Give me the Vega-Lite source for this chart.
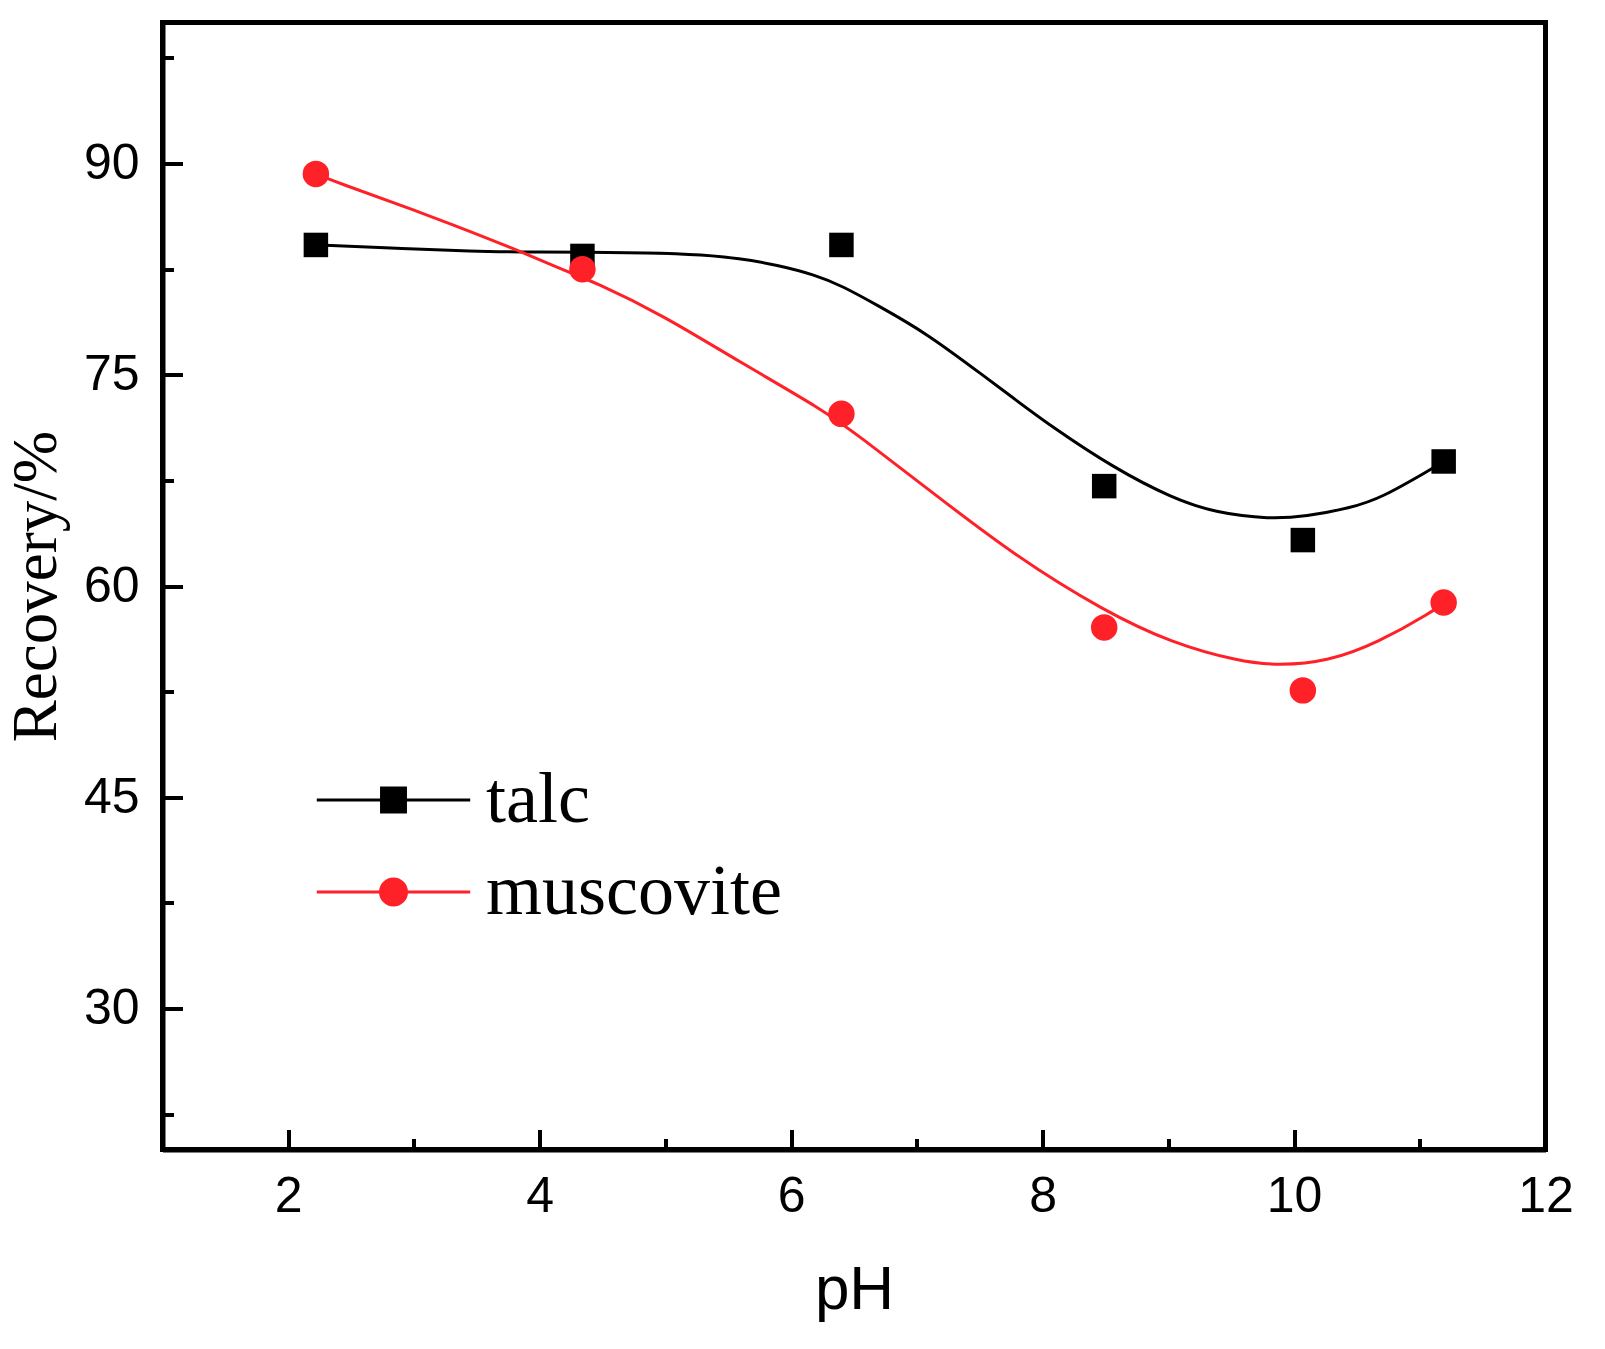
{
  "$schema": "https://vega.github.io/schema/vega-lite/v6.json",
  "width": 1383,
  "height": 1127,
  "autosize": {"type": "none"},
  "padding": {"left": 162.5, "top": 22.5, "right": 59.5, "bottom": 199.5},
  "background": "white",
  "config": {
    "view": {"stroke": "black", "strokeWidth": 5},
    "axis": {
      "grid": false,
      "domainColor": "black",
      "domainWidth": 5,
      "tickColor": "black",
      "tickWidth": 4,
      "labelFont": "Liberation Sans",
      "labelFontSize": 50,
      "labelColor": "black",
      "titleColor": "black",
      "titleFontWeight": "normal"
    }
  },
  "datasets": {
    "pts": [
      {"pH": 2.22, "recovery": 84.21, "mineral": "talc"},
      {"pH": 4.34, "recovery": 83.43, "mineral": "talc"},
      {"pH": 6.40, "recovery": 84.21, "mineral": "talc"},
      {"pH": 8.49, "recovery": 67.09, "mineral": "talc"},
      {"pH": 10.07, "recovery": 63.26, "mineral": "talc"},
      {"pH": 11.19, "recovery": 68.84, "mineral": "talc"},
      {"pH": 2.22, "recovery": 89.25, "mineral": "muscovite"},
      {"pH": 4.34, "recovery": 82.49, "mineral": "muscovite"},
      {"pH": 6.40, "recovery": 72.22, "mineral": "muscovite"},
      {"pH": 8.49, "recovery": 57.06, "mineral": "muscovite"},
      {"pH": 10.07, "recovery": 52.59, "mineral": "muscovite"},
      {"pH": 11.19, "recovery": 58.83, "mineral": "muscovite"}
    ],
    "curve": [
      {"pH": 2.223, "recovery": 84.21, "mineral": "talc"},
      {"pH": 2.938, "recovery": 83.95, "mineral": "talc"},
      {"pH": 3.455, "recovery": 83.77, "mineral": "talc"},
      {"pH": 3.882, "recovery": 83.70, "mineral": "talc"},
      {"pH": 4.976, "recovery": 83.67, "mineral": "talc"},
      {"pH": 5.281, "recovery": 83.50, "mineral": "talc"},
      {"pH": 5.584, "recovery": 83.27, "mineral": "talc"},
      {"pH": 5.889, "recovery": 82.79, "mineral": "talc"},
      {"pH": 6.193, "recovery": 82.08, "mineral": "talc"},
      {"pH": 6.406, "recovery": 81.30, "mineral": "talc"},
      {"pH": 6.680, "recovery": 79.96, "mineral": "talc"},
      {"pH": 7.077, "recovery": 77.95, "mineral": "talc"},
      {"pH": 7.538, "recovery": 74.87, "mineral": "talc"},
      {"pH": 7.785, "recovery": 73.22, "mineral": "talc"},
      {"pH": 8.071, "recovery": 71.32, "mineral": "talc"},
      {"pH": 8.568, "recovery": 68.37, "mineral": "talc"},
      {"pH": 9.029, "recovery": 66.24, "mineral": "talc"},
      {"pH": 9.382, "recovery": 65.18, "mineral": "talc"},
      {"pH": 9.809, "recovery": 64.75, "mineral": "talc"},
      {"pH": 10.093, "recovery": 64.94, "mineral": "talc"},
      {"pH": 10.448, "recovery": 65.53, "mineral": "talc"},
      {"pH": 10.694, "recovery": 66.24, "mineral": "talc"},
      {"pH": 11.105, "recovery": 68.37, "mineral": "talc"},
      {"pH": 11.193, "recovery": 68.84, "mineral": "talc"},
      {"pH": 2.223, "recovery": 89.25, "mineral": "muscovite"},
      {"pH": 2.330, "recovery": 88.83, "mineral": "muscovite"},
      {"pH": 3.150, "recovery": 86.22, "mineral": "muscovite"},
      {"pH": 3.820, "recovery": 83.86, "mineral": "muscovite"},
      {"pH": 4.215, "recovery": 82.32, "mineral": "muscovite"},
      {"pH": 4.428, "recovery": 81.61, "mineral": "muscovite"},
      {"pH": 4.976, "recovery": 79.25, "mineral": "muscovite"},
      {"pH": 5.584, "recovery": 75.93, "mineral": "muscovite"},
      {"pH": 6.254, "recovery": 72.51, "mineral": "muscovite"},
      {"pH": 6.545, "recovery": 70.61, "mineral": "muscovite"},
      {"pH": 7.077, "recovery": 66.95, "mineral": "muscovite"},
      {"pH": 7.785, "recovery": 62.10, "mineral": "muscovite"},
      {"pH": 8.496, "recovery": 58.19, "mineral": "muscovite"},
      {"pH": 9.029, "recovery": 55.95, "mineral": "muscovite"},
      {"pH": 9.561, "recovery": 54.65, "mineral": "muscovite"},
      {"pH": 9.880, "recovery": 54.34, "mineral": "muscovite"},
      {"pH": 10.271, "recovery": 54.65, "mineral": "muscovite"},
      {"pH": 10.661, "recovery": 55.95, "mineral": "muscovite"},
      {"pH": 11.105, "recovery": 58.19, "mineral": "muscovite"},
      {"pH": 11.193, "recovery": 58.83, "mineral": "muscovite"}
    ]
  },
  "encoding": {
    "x": {
      "field": "pH",
      "type": "quantitative",
      "scale": {"domain": [1, 12], "nice": false, "zero": false},
      "axis": {
        "title": "pH",
        "titleFont": "Liberation Sans",
        "titleFontSize": 62,
        "titlePadding": 29,
        "values": [2, 3, 4, 5, 6, 7, 8, 9, 10, 11, 12],
        "labelExpr": "datum.value % 2 === 0 ? datum.label : ''",
        "tickSize": {"condition": {"test": "datum.value % 2 === 0", "value": -20}, "value": -11},
        "labelPadding": 42,
        "labelFlush": false,
        "labelOverlap": false
      }
    },
    "y": {
      "field": "recovery",
      "type": "quantitative",
      "scale": {"domain": [20, 100], "nice": false, "zero": false},
      "axis": {
        "title": "Recovery/%",
        "titleFont": "Liberation Serif",
        "titleFontSize": 63,
        "titlePadding": 15,
        "values": [22.5, 30, 37.5, 45, 52.5, 60, 67.5, 75, 82.5, 90, 97.5],
        "labelExpr": "datum.value % 15 === 0 ? datum.label : ''",
        "tickSize": {"condition": {"test": "datum.value % 15 === 0", "value": -20}, "value": -11},
        "labelPadding": 43.5,
        "labelFlush": false,
        "labelOverlap": false
      }
    },
    "color": {
      "field": "mineral",
      "type": "nominal",
      "scale": {"domain": ["talc", "muscovite"], "range": ["#000000", "#FF2128"]},
      "legend": {
        "orient": "none",
        "legendX": 195,
        "legendY": 741.5,
        "title": null,
        "padding": 0,
        "labelFont": "Liberation Serif",
        "labelFontSize": 72,
        "labelColor": "black",
        "labelLimit": 600,
        "labelOffset": 56.5,
        "rowPadding": 20,
        "symbolSize": 676,
        "symbolStrokeWidth": 3,
        "symbolOpacity": 1,
        "encode": {
          "symbols": {
            "update": {
              "shape": {"signal": "datum.value === 'talc' ? 'M-5.9,0H5.9M-0.92,-0.92H0.92V0.92H-0.92Z' : 'M-5.9,0H5.9M1,0A1,1,0,1,1,-1,0A1,1,0,1,1,1,0Z'"},
              "fill": {"signal": "datum.value === 'talc' ? '#000000' : '#FF2128'"},
              "stroke": {"signal": "datum.value === 'talc' ? '#000000' : '#FF2128'"},
              "strokeWidth": {"value": 3},
              "opacity": {"value": 1}
            }
          }
        }
      }
    }
  },
  "layer": [
    {
      "data": {"name": "curve"},
      "mark": {"type": "line", "interpolate": "basis", "strokeWidth": 3, "clip": true}
    },
    {
      "data": {"name": "pts"},
      "transform": [{"filter": "datum.mineral === 'talc'"}],
      "mark": {"type": "point", "shape": "square", "filled": true, "opacity": 1, "size": 600}
    },
    {
      "data": {"name": "pts"},
      "transform": [{"filter": "datum.mineral === 'muscovite'"}],
      "mark": {"type": "point", "shape": "circle", "filled": true, "opacity": 1, "size": 700}
    }
  ]
}
